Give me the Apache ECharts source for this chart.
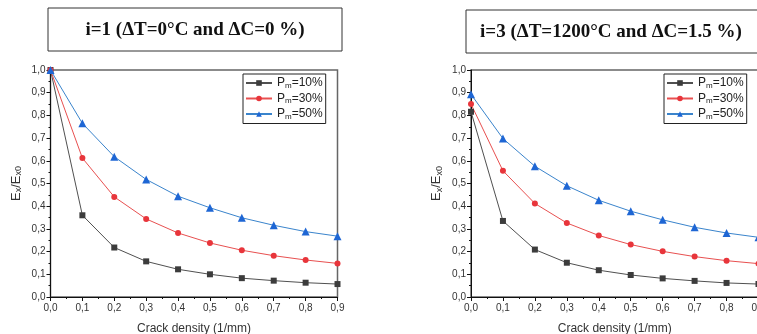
<!DOCTYPE html>
<html><head><meta charset="utf-8">
<script src="https://cdn.jsdelivr.net/npm/echarts@6/dist/echarts.min.js"></script>
<style>html,body{margin:0;padding:0;background:#fff}#c{width:757px;height:334px}</style>
</head><body><div id="c"></div>
<script>
const crackDensity = [0.0, 0.1, 0.2, 0.3, 0.4, 0.5, 0.6, 0.7, 0.8, 0.9];
const seriesNames = ['Pm=10%', 'Pm=30%', 'Pm=50%'];
// Chart i=1
const left10 = [1.0, 0.360, 0.218, 0.157, 0.122, 0.100, 0.083, 0.072, 0.063, 0.057];
const left30 = [1.0, 0.612, 0.441, 0.344, 0.282, 0.238, 0.206, 0.182, 0.163, 0.148];
const left50 = [1.0, 0.765, 0.618, 0.518, 0.444, 0.393, 0.349, 0.316, 0.288, 0.268];
// Chart i=3
const right10 = [0.816, 0.335, 0.209, 0.151, 0.118, 0.097, 0.082, 0.071, 0.062, 0.057];
const right30 = [0.850, 0.556, 0.412, 0.326, 0.271, 0.231, 0.201, 0.178, 0.160, 0.147];
const right50 = [0.893, 0.698, 0.576, 0.490, 0.426, 0.378, 0.340, 0.307, 0.282, 0.263];
const titles = ['i=1 (\u0394T=0\u00B0C and \u0394C=0 %)', 'i=3 (\u0394T=1200\u00B0C and \u0394C=1.5 %)'];
const xName = 'Crack density (1/mm)';

const chart = echarts.init(document.getElementById('c'), null, {renderer: 'canvas'});
const fmt = v => v.toFixed(1).replace('.', ',');
const pair = arr => crackDensity.map((x, i) => [x, arr[i]]);
const styles = [
  {symbol: 'rect', color: '#3c3c3c', line: '#505050'},
  {symbol: 'circle', color: '#e8353b', line: '#e85050'},
  {symbol: 'triangle', color: '#1e66d4', line: '#3a84cc'}
];
const grids = [
  {left: 50.5, top: 70, width: 287, height: 227},
  {left: 471, top: 70, width: 287.5, height: 227}
];
function xAxis(gi) {
  return {
    type: 'value', gridIndex: gi, min: 0, max: 0.9, interval: 0.1,
    name: xName, nameLocation: 'middle', nameGap: 26,
    nameTextStyle: {fontFamily: 'Liberation Sans', fontSize: 12, color: '#333'},
    axisLine: {show: true, onZero: false, lineStyle: {color: '#111', width: 1}},
    axisTick: {show: true, inside: false, length: 4, lineStyle: {color: '#111'}},
    minorTick: {show: true, splitNumber: 2, length: 2, lineStyle: {color: '#111'}},
    axisLabel: {formatter: fmt, fontFamily: 'Liberation Sans', fontSize: 10, color: '#333', margin: 6, hideOverlap: false},
    splitLine: {show: false}
  };
}
function yAxis(gi) {
  return {
    type: 'value', gridIndex: gi, min: 0, max: 1.0, interval: 0.1,
    name: '{a|E}{s|x}{a|/E}{s|x0}', nameLocation: 'middle', nameGap: 27, nameRotate: 90,
    nameTextStyle: {rich: {
      a: {fontFamily: 'Liberation Sans', fontSize: 13, color: '#333'},
      s: {fontFamily: 'Liberation Sans', fontSize: 9, color: '#333', padding: [6, 0, 0, 0]}
    }},
    axisLine: {show: true, onZero: false, lineStyle: {color: '#111', width: 1}},
    axisTick: {show: true, inside: false, length: 4, lineStyle: {color: '#111'}},
    minorTick: {show: true, splitNumber: 2, length: 2, lineStyle: {color: '#111'}},
    axisLabel: {formatter: fmt, fontFamily: 'Liberation Sans', fontSize: 10, color: '#333', margin: 5},
    splitLine: {show: false}
  };
}
const dataSets = [[left10, left30, left50], [right10, right30, right50]];
const series = [];
dataSets.forEach((set, gi) => {
  set.forEach((arr, si) => {
    series.push({
      type: 'line', name: seriesNames[si], xAxisIndex: gi, yAxisIndex: gi,
      data: pair(arr), symbol: styles[si].symbol, symbolSize: si === 2 ? 8 : 6,
      itemStyle: {color: styles[si].color},
      lineStyle: {color: styles[si].line, width: 1},
      clip: false, animation: false
    });
  });
});
function legend(left) {
  return {
    left: left, top: 74, orient: 'vertical', data: seriesNames,
    borderColor: '#222', borderWidth: 1, padding: [3, 3, 3, 2], itemGap: 3,
    itemWidth: 26, itemHeight: 7, selectedMode: false,
    formatter: n => '{a|P}{s|m}{a|' + n.slice(2) + '}',
    textStyle: {rich: {
      a: {fontFamily: 'Liberation Sans', fontSize: 12, color: '#222'},
      s: {fontFamily: 'Liberation Sans', fontSize: 8, color: '#222', padding: [5, 0, 0, 0]}
    }}
  };
}
chart.setOption({
  backgroundColor: '#fff',
  animation: false,
  grid: grids.map(g => Object.assign({show: true, borderColor: '#666', borderWidth: 1.5, backgroundColor: 'transparent', outerBoundsMode: 'none', containLabel: false}, g)),
  xAxis: [xAxis(0), xAxis(1)],
  yAxis: [yAxis(0), yAxis(1)],
  legend: [legend(243), legend(664)],
  series: series,
  graphic: [
    {type: 'rect', shape: {x: 48, y: 8, width: 294, height: 43}, style: {fill: '#fff', stroke: '#333', lineWidth: 1}},
    {type: 'text', x: 195, y: 30, style: {text: titles[0], x: 0, y: 0, align: 'center', verticalAlign: 'middle', font: 'bold 19px "Liberation Serif"', fill: '#111'}},
    {type: 'rect', shape: {x: 466, y: 10, width: 300, height: 43}, style: {fill: '#fff', stroke: '#333', lineWidth: 1}},
    {type: 'text', x: 611, y: 32, style: {text: titles[1], x: 0, y: 0, align: 'center', verticalAlign: 'middle', font: 'bold 19px "Liberation Serif"', fill: '#111'}}
  ]
});
</script></body></html>
